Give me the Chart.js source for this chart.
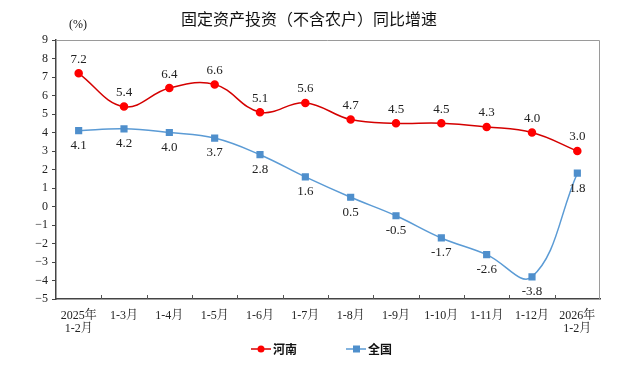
<!DOCTYPE html>
<html><head><meta charset="utf-8">
<script src="https://cdn.jsdelivr.net/npm/chart.js@4"></script>
<style>html,body{margin:0;padding:0;background:#fff}#w{width:640px;height:368px;position:relative}</style>
</head><body><div id="w"><canvas id="c"></canvas></div>
<script>
const categories = [["2025年","1-2月"],"1-3月","1-4月","1-5月","1-6月","1-7月","1-8月","1-9月","1-10月","1-11月","1-12月",["2026年","1-2月"]];
const henan = [7.2,5.4,6.4,6.6,5.1,5.6,4.7,4.5,4.5,4.3,4.0,3.0];
const national = [4.1,4.2,4.0,3.7,2.8,1.6,0.5,-0.5,-1.7,-2.6,-3.8,1.8];
const seriesNames = ["河南","全国"];
const titleText = "固定资产投资（不含农户）同比增速";
const unitText = "(%)";
const yMin = -5, yMax = 9;

const SERIF = "'Liberation Serif','Noto Serif CJK SC','Noto Sans CJK SC',serif";
const CJK = "'Noto Sans CJK SC','Noto Sans',sans-serif";

const deco = {
  id:'deco',
  afterDatasetsDraw(chart){
    const ctx = chart.ctx, a = chart.chartArea, x = chart.scales.x;
    ctx.save();
    ctx.strokeStyle = '#9a9a9a'; ctx.lineWidth = 1;
    ctx.beginPath();
    ctx.moveTo(a.left, a.top+0.5); ctx.lineTo(a.right-0.5, a.top+0.5); ctx.lineTo(a.right-0.5, a.bottom);
    ctx.stroke();
    ctx.strokeStyle = '#555';
    const n = categories.length;
    for (let i=1;i<n;i++){
      const px = Math.round((x.getPixelForValue(i-1)+x.getPixelForValue(i))/2)+0.5;
      ctx.beginPath(); ctx.moveTo(px, a.bottom); ctx.lineTo(px, a.bottom-4); ctx.stroke();
    }
    ctx.fillStyle = '#222';
    ctx.font = "13px " + SERIF;
    ctx.textAlign = 'center'; ctx.textBaseline = 'middle';
    chart.data.datasets.forEach((ds, di) => {
      const meta = chart.getDatasetMeta(di);
      meta.data.forEach((pt, i) => {
        const v = ds.data[i];
        const dy = di === 0 ? -14 : 15;
        ctx.fillText(v.toFixed(1), pt.x, pt.y + dy);
      });
    });
    ctx.font = "16px " + CJK;
    ctx.fillStyle = '#111';
    ctx.fillText(titleText, 309, 19);
    ctx.font = "12px " + SERIF;
    ctx.fillText(unitText, 78, 25);
    const items = [
      {x:251, name:seriesNames[0], ds:chart.data.datasets[0]},
      {x:346, name:seriesNames[1], ds:chart.data.datasets[1]}
    ];
    const ly = 349;
    items.forEach(it => {
      ctx.strokeStyle = it.ds.borderColor; ctx.lineWidth = 1.5;
      ctx.beginPath(); ctx.moveTo(it.x, ly); ctx.lineTo(it.x+20, ly); ctx.stroke();
      ctx.fillStyle = it.ds.pointBackgroundColor;
      if (it.ds.pointStyle === 'rect') ctx.fillRect(it.x+7, ly-3.5, 7, 7);
      else { ctx.beginPath(); ctx.arc(it.x+10, ly, 3.5, 0, Math.PI*2); ctx.fill(); }
      ctx.fillStyle = '#111'; ctx.textAlign = 'left';
      ctx.font = "bold 12px " + CJK;
      ctx.fillText(it.name, it.x+22, ly);
    });
    ctx.restore();
  }
};

new Chart(document.getElementById('c'), {
  type:'line',
  data:{
    labels: categories,
    datasets:[
      {label:seriesNames[0], data:henan, borderColor:'#d40000', backgroundColor:'#ff0000',
       pointBackgroundColor:'#ff0000', pointBorderColor:'#ff0000', pointStyle:'circle',
       pointRadius:3.5, borderWidth:1.5, tension:0.4, clip:false},
      {label:seriesNames[1], data:national, borderColor:'#5b9bd5', backgroundColor:'#4f8fcc',
       pointBackgroundColor:'#4f8fcc', pointBorderColor:'#4f8fcc', pointStyle:'rect',
       pointRadius:4, borderWidth:1.5, tension:0.4, clip:false}
    ]
  },
  options:{
    responsive:true, maintainAspectRatio:false, animation:false,
    layout:{padding:{top:40,right:40,left:0,bottom:0}},
    plugins:{legend:{display:false}, title:{display:false}, tooltip:{enabled:false}},
    scales:{
      x:{
        offset:true,
        grid:{display:false},
        border:{display:true, color:'#444', width:1.5},
        ticks:{color:'#222', font:{family:SERIF, size:12, lineHeight:1.1}, maxRotation:0, autoSkip:false, padding:2},
        afterFit(s){ s.height = 69; }
      },
      y:{
        min:yMin, max:yMax,
        grid:{display:true, drawOnChartArea:false, drawTicks:true, tickLength:4, color:'#444'},
        border:{display:true, color:'#444', width:1.5},
        ticks:{stepSize:1, color:'#222', font:{family:SERIF, size:12}, padding:4,
               callback:v=>String(v).replace('-','−')},
        afterFit(s){ s.width = 56; }
      }
    }
  },
  plugins:[deco]
});
</script></body></html>
